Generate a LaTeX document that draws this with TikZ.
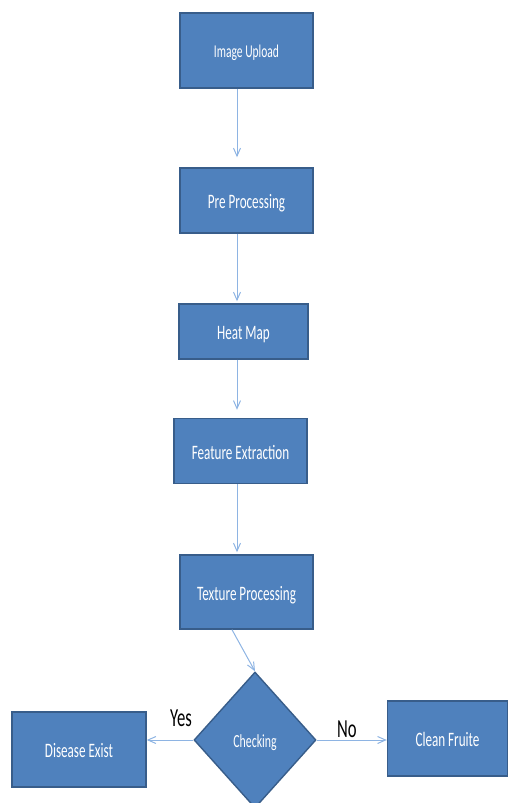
\documentclass[tikz,border=0pt]{standalone}
\usepackage{fontspec}
\setmainfont{Carlito}[FakeStretch=0.64]
\usetikzlibrary{arrows.meta,shapes.geometric,calc}
\definecolor{boxfill}{HTML}{4F81BD}
\definecolor{boxline}{HTML}{385D8A}
\definecolor{arrline}{HTML}{8EB4E3}
\tikzset{
  procbox/.style={draw=boxline, fill=boxfill, line width=1.4pt, text=white, inner sep=0pt, text height=16pt, text depth=0pt, font=\fontsize{20.5}{22}\selectfont},
  decbox/.style={diamond, draw=boxline, fill=boxfill, line width=1.4pt, text=white, inner sep=0pt, text height=14.5pt, text depth=0pt, font=\fontsize{18.5}{20}\selectfont},
  arr/.style={draw=arrline, line width=1pt, -{Straight Barb[length=8pt,width=7pt]}},
  lbl/.style={text=black, inner sep=0pt, font=\fontsize{26}{28}\selectfont}
}
\begin{document}
\begin{tikzpicture}[x=1pt,y=-1pt]
\useasboundingbox (0,0) rectangle (510,803);
\node[procbox, minimum width=133pt, minimum height=75pt, text height=13pt, font=\fontsize{18}{20}\selectfont] (upload) at (246.5,50.5) {Image Upload};
\node[procbox, minimum width=133pt, minimum height=65pt] (pre) at (246.5,200.5) {Pre Processing};
\node[procbox, minimum width=129pt, minimum height=55pt] (heat) at (243.5,331.5) {Heat Map};
\node[procbox, minimum width=133pt, minimum height=65pt] (feat) at (240.5,451) {Feature Extraction};
\node[procbox, minimum width=133pt, minimum height=74pt] (tex) at (246.5,592) {Texture Processing};
\node[decbox, minimum width=122pt, minimum height=136pt] (chk) at (255,740) {Checking};
\node[procbox, minimum width=134pt, minimum height=75pt] (dis) at (79,749.5) {Disease Exist};
\node[procbox, minimum width=120pt, minimum height=75pt] (clean) at (447.5,738.5) {Clean Fruite};
\coordinate (ax) at (237,0);
\draw[arr, shorten >=10pt] (upload.south -| ax) -- (pre.north -| ax);
\draw[arr, shorten >=2pt] (pre.south -| ax) -- (heat.north -| ax);
\draw[arr, shorten >=8pt] (heat.south -| ax) -- (feat.north -| ax);
\draw[arr, shorten >=2pt] (feat.south -| ax) -- (tex.north -| ax);
\draw[arr] ($(tex.south)+(-14.5,0)$) -- (chk.north);
\draw[arr] (chk.west) -- (chk.west -| dis.east);
\draw[arr] (chk.east) -- (chk.east -| clean.west);
\node[lbl] (yes) at (181,718) {Yes};
\node[lbl] (no) at (347,729) {No};
\end{tikzpicture}
\end{document}
